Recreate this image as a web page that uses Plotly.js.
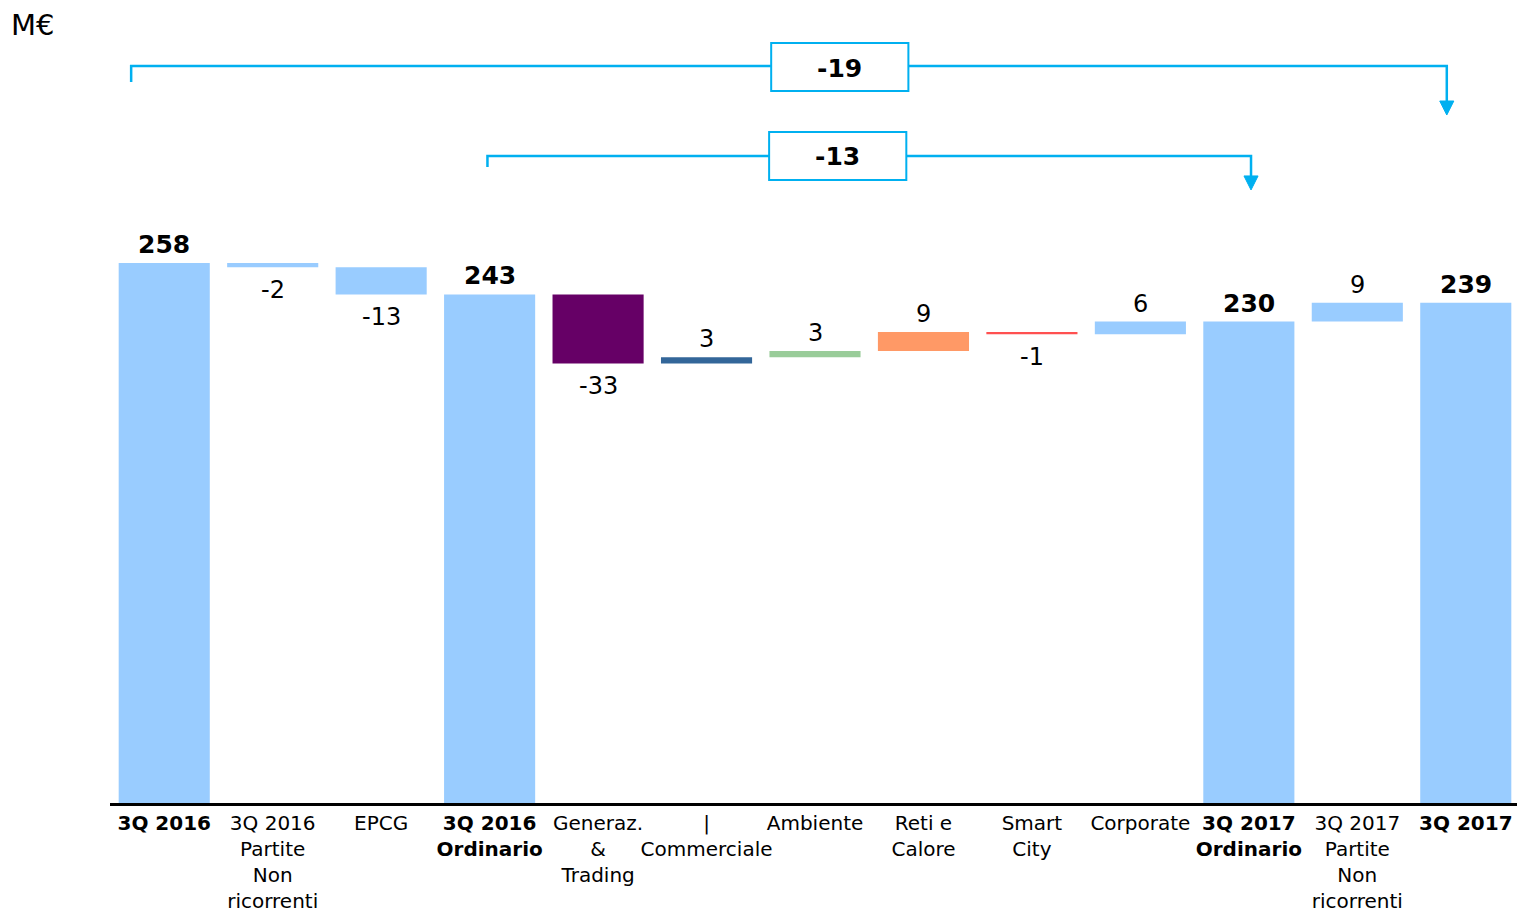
<!DOCTYPE html>
<html>
<head>
<meta charset="utf-8">
<script src="https://cdn.plot.ly/plotly-3.0.1.min.js"></script>
<style>html,body{margin:0;padding:0;background:#fff;overflow:hidden;}#chart{width:1517px;height:909px;overflow:hidden;}</style>
</head>
<body>
<div id="chart"></div>
<script>
// ---- data ----
const categories = ['3Q 2016', '3Q 2016 Partite Non ricorrenti', 'EPCG', '3Q 2016 Ordinario',
  'Generaz. & Trading', 'Commerciale', 'Ambiente', 'Reti e Calore', 'Smart City', 'Corporate',
  '3Q 2017 Ordinario', '3Q 2017 Partite Non ricorrenti', '3Q 2017'];
const tickLabels = ['<b>3Q 2016</b>', '3Q 2016<br>Partite<br>Non<br>ricorrenti', 'EPCG',
  '<b>3Q 2016<br>Ordinario</b>', 'Generaz.<br>&amp;<br>Trading', '|<br>Commerciale', 'Ambiente',
  'Reti e<br>Calore', 'Smart<br>City', 'Corporate', '<b>3Q 2017<br>Ordinario</b>',
  '3Q 2017<br>Partite<br>Non<br>ricorrenti', '<b>3Q 2017</b>'];
const values = [258, -2, -13, 243, -33, 3, 3, 9, -1, 6, 230, 9, 239];
const isTotal = [true, false, false, true, false, false, false, false, false, false, true, false, true];
const barColors = ['#99CCFF', '#99CCFF', '#99CCFF', '#99CCFF', '#660066', '#336699', '#99CC99',
  '#FF9966', '#FF5050', '#99CCFF', '#99CCFF', '#99CCFF', '#99CCFF'];
const bracketLabels = ['-19', '-13'];

// ---- build waterfall geometry ----
const bases = [], heights = [];
let running = 0;
values.forEach((v, i) => {
  if (isTotal[i]) { bases.push(0); heights.push(v); running = v; }
  else { bases.push(running); heights.push(v); running += v; }
});

const FONT = 'DejaVu Sans, Verdana, sans-serif';
const annotations = [];
values.forEach((v, i) => {
  const top = Math.max(bases[i], bases[i] + heights[i]);
  const bot = Math.min(bases[i], bases[i] + heights[i]);
  if (isTotal[i] || v > 0) {
    annotations.push({x: categories[i], y: top, yref: 'y', text: isTotal[i] ? '<b>' + v + '</b>' : String(v),
      showarrow: false, yanchor: 'bottom', yshift: 2, font: {family: FONT, size: isTotal[i] ? 25 : 24, color: '#000'}});
  } else {
    annotations.push({x: categories[i], y: bot, yref: 'y', text: String(v),
      showarrow: false, yanchor: 'top', yshift: -7, font: {family: FONT, size: 24, color: '#000'}});
  }
});

// unit label
annotations.push({xref: 'paper', yref: 'paper', x: -0.070, y: 1.0, xanchor: 'left', yanchor: 'top',
  text: 'M€', showarrow: false, font: {family: FONT, size: 29, color: '#000'}, yshift: -6, xshift: -2});

const CY = '#00B0F0';
const shapes = [];
function bracket(x0, x1, yTop, yStartLeft, yTip, boxX0, boxX1, boxY0, boxY1, label) {
  shapes.push({type: 'path', xref: 'x', yref: 'y',
    path: `M ${x0} ${yStartLeft} L ${x0} ${yTop} L ${x1} ${yTop} L ${x1} ${yTip + 6.5}`,
    line: {color: CY, width: 2.5}});
  shapes.push({type: 'path', xref: 'x', yref: 'y',
    path: `M ${x1 - 0.065} ${yTip + 6.7} L ${x1 + 0.065} ${yTip + 6.7} L ${x1} ${yTip} Z`,
    fillcolor: CY, line: {color: CY, width: 1}});
  shapes.push({type: 'rect', xref: 'x', yref: 'y', x0: boxX0, x1: boxX1, y0: boxY0, y1: boxY1,
    fillcolor: '#fff', line: {color: CY, width: 2}});
  annotations.push({xref: 'x', yref: 'y', x: (boxX0 + boxX1) / 2, y: (boxY0 + boxY1) / 2,
    text: '<b>' + label + '</b>', showarrow: false, yshift: -1, font: {family: FONT, size: 25, color: '#000'}});
}
bracket(-0.305, 11.825, 352.1, 344.5, 328.7, 5.596, 6.861, 340.2, 363.1, bracketLabels[0]);
bracket(2.98, 10.02, 309.1, 303.9, 292.9, 5.577, 6.842, 297.7, 320.6, bracketLabels[1]);

const trace = {
  type: 'bar', x: categories, y: heights, base: bases,
  marker: {color: barColors, line: {width: 0}}, width: 0.84,
  hoverinfo: 'none', cliponaxis: false
};

const layout = {
  width: 1520, height: 909,
  margin: {l: 110, r: 0, t: 0, b: 106},
  paper_bgcolor: '#fff', plot_bgcolor: '#fff',
  showlegend: false,
  xaxis: {type: 'category', tickvals: categories, ticktext: tickLabels, tickangle: 0, showline: true,
    linecolor: '#000', linewidth: 3, ticks: '', showgrid: false, zeroline: false,
    tickfont: {family: FONT, size: 20, color: '#000'}, fixedrange: true},
  yaxis: {range: [0, 383.66], visible: false, showgrid: false, zeroline: false, fixedrange: true},
  annotations: annotations, shapes: shapes,
  font: {family: FONT}
};

Plotly.newPlot('chart', [trace], layout, {displayModeBar: false, staticPlot: true});
</script>
</body>
</html>
